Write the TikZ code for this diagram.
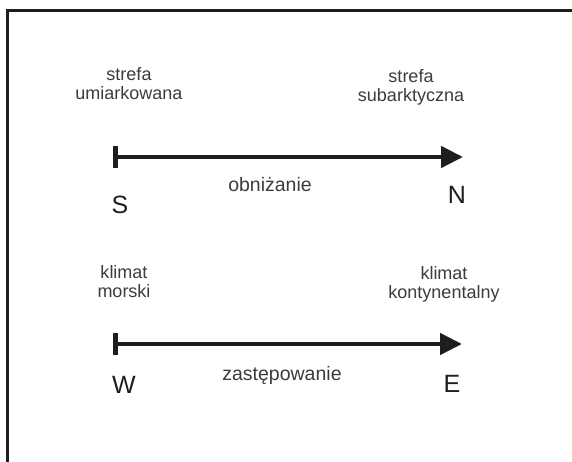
\documentclass[tikz,border=0pt]{standalone}
\usepackage{fontspec}
\setmainfont{Liberation Sans}
\usetikzlibrary{arrows.meta}
\definecolor{ink}{HTML}{1E1E1E}
\definecolor{labelgray}{HTML}{3C3C3C}
\begin{document}
\begin{tikzpicture}[x=1pt,y=-1pt,
  frameline/.style={draw=ink,line width=2.2pt},
  axis/.style={draw=ink,line width=4.5pt,
    arrows={Bar[width=22pt,length=5pt]-Triangle[length=22pt,width=21pt]}},
  zonelabel/.style={text=labelgray,font=\fontsize{18}{19}\selectfont,
    align=center,inner sep=0pt},
  midlabel/.style={text=labelgray,font=\fontsize{19.5}{20}\selectfont,inner sep=0pt},
  pole/.style={text=ink,font=\fontsize{25}{25}\selectfont,inner sep=0pt}]
  \useasboundingbox[fill=white] (0,0) rectangle (572,462);

  % open frame: top and left edges only
  \draw[frameline] (572,10.5) -- (7.5,10.5) -- (7.5,462);

  % north-south axis
  \coordinate (s) at (113,157);
  \coordinate (n) at (463,157);
  \draw[axis] (s) -- (n);
  \node[zonelabel,anchor=base] (temp) at (129,100) {strefa\\umiarkowana};
  \node[zonelabel,anchor=base] (subarc) at (411,102) {strefa\\subarktyczna};
  \node[midlabel,anchor=base] (lower) at (270,192) {obniżanie};
  \node[pole] (S) at (120,205) {S};
  \node[pole] (N) at (457,195) {N};

  % west-east axis
  \coordinate (w) at (113,344);
  \coordinate (e) at (462,344);
  \draw[axis] (w) -- (e);
  \node[zonelabel,anchor=base] (sea) at (124,297) {klimat\\morski};
  \node[zonelabel,anchor=base] (cont) at (444,298) {klimat\\kontynentalny};
  \node[midlabel,anchor=base] (repl) at (282,380) {zastępowanie};
  \node[pole] (W) at (124,385) {W};
  \node[pole] (E) at (452,384) {E};
\end{tikzpicture}
\end{document}
